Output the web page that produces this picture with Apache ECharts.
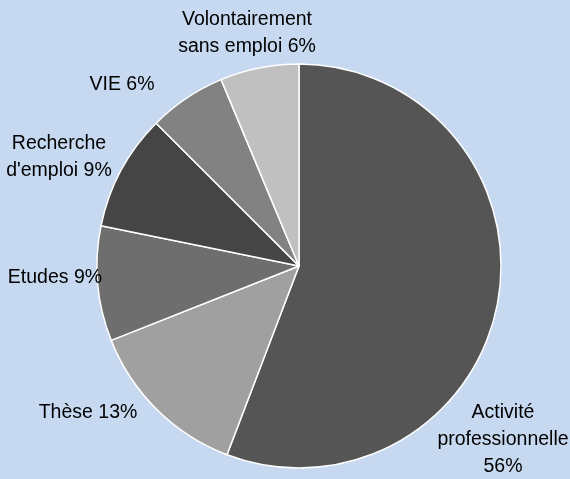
<!DOCTYPE html>
<html>
<head>
<meta charset="utf-8">
<script src="https://cdn.jsdelivr.net/npm/echarts@6/dist/echarts.min.js"></script>
<style>
  html, body { margin: 0; padding: 0; background: #c6d9f0; }
  #chart { width: 570px; height: 479px; }
</style>
</head>
<body>
<div id="chart"></div>
<script>
// données (sens horaire depuis midi)
const categories = ['Activité professionnelle', 'Thèse', 'Etudes', "Recherche d'emploi", 'VIE', 'Volontairement sans emploi']
const values = [55.8, 13.2, 9.2, 9.3, 6.2, 6.3]
const labelTexts = ['Activité\nprofessionnelle\n56%', 'Thèse 13%', 'Etudes 9%', "Recherche\nd'emploi 9%", 'VIE 6%', 'Volontairement\nsans emploi 6%']
const colors = ['#555555', '#a0a0a0', '#6e6e6e', '#454545', '#828282', '#c0c0c0']

// position des étiquettes (centre du texte)
const labelPos = [[503, 440], [88, 413], [55, 278], [59, 157], [122, 85], [247, 33]]

const myChart = echarts.init(document.getElementById('chart'))
const option = {
  backgroundColor: '#c6d9f0',
  animation: false,
  series: [{
    type: 'pie',
    center: [299, 266],
    radius: 202,
    startAngle: 90,
    clockwise: true,
    data: categories.map((name, i) => ({
      name: name,
      value: values[i],
      itemStyle: { color: colors[i] }
    })),
    itemStyle: { borderColor: '#ffffff', borderWidth: 1.5 },
    label: {
      show: true,
      position: 'outside',
      formatter: (p) => labelTexts[p.dataIndex],
      fontFamily: 'Liberation Sans, Arial, sans-serif',
      fontSize: 19.5,
      lineHeight: 27,
      color: '#000000',
      align: 'center',
      overflow: 'none',
      width: 200
    },
    labelLine: { show: false },
    labelLayout: (p) => ({
      x: labelPos[p.dataIndex][0],
      y: labelPos[p.dataIndex][1],
      align: 'center',
      verticalAlign: 'middle'
    }),
    emphasis: { disabled: true }
  }]
}
myChart.setOption(option)
</script>
</body>
</html>
